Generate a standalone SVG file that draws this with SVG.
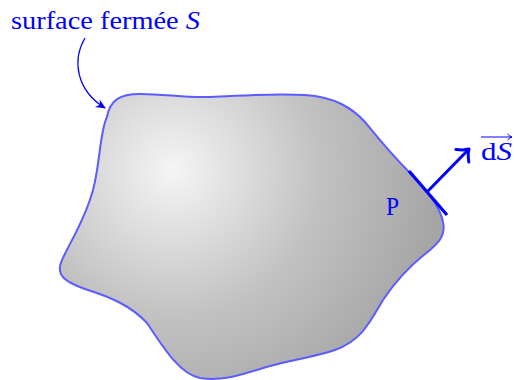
<svg xmlns="http://www.w3.org/2000/svg" width="514" height="380" viewBox="0 0 514 380">
<defs>
<radialGradient id="shade" gradientUnits="userSpaceOnUse" cx="173" cy="170" r="265">
<stop offset="0" stop-color="#f5f5f5"/>
<stop offset="0.55" stop-color="#c2c2c2"/>
<stop offset="1" stop-color="#a6a6a6"/>
</radialGradient>
<marker id="stealth" viewBox="-10 -5 12 10" refX="0" refY="0" markerWidth="12" markerHeight="10" markerUnits="userSpaceOnUse" orient="auto">
<path d="M 1,0 L -9,-4.5 L -6,0 L -9,4.5 Z" fill="#0000ff"/>
</marker>
<marker id="chev" viewBox="-12 -12 14 24" refX="0" refY="0" markerWidth="14" markerHeight="24" markerUnits="userSpaceOnUse" orient="auto">
<path d="M -9.5,-9 Q -4,-2 0,0 Q -4,2 -9.5,9" fill="none" stroke="#0000ff" stroke-width="3" stroke-linecap="round" stroke-linejoin="round"/>
</marker>
<marker id="small" viewBox="-6 -4 7 8" refX="0" refY="0" markerWidth="7" markerHeight="8" markerUnits="userSpaceOnUse" orient="auto">
<path d="M -4.5,-3 Q -2,-0.5 0,0 Q -2,0.5 -4.5,3" fill="none" stroke="#0000ff" stroke-width="1"/>
</marker>
</defs>
<style>
.lbl { font-family: "Liberation Serif", "DejaVu Serif", serif; fill: #0000ff; }
</style>
<g id="surface">
<path d="M 107,117 C 110,100 120,94 140,94 C 165,94 185,98 210,97 C 240,96 270,93 305,95 C 335,97 352,108 365,122 C 378,138 390,153 410,173 C 425,188 440,205 443,222 C 446,236 438,244 425,254 C 410,266 395,282 383,300 C 370,322 362,340 335,350 C 315,357 290,360 270,366 C 245,373 225,382 200,378 C 180,374 165,350 147,323 C 130,305 110,297 85,289 C 65,282 55,275 62,260 C 70,242 85,220 93,190 C 100,165 100,130 107,117 Z" fill="url(#shade)" stroke="#5c5cff" stroke-width="2"/>
</g>
<g id="label-surface">
<text class="lbl" x="11" y="29" font-size="25" textLength="189" lengthAdjust="spacingAndGlyphs">surface fermée <tspan font-style="italic">S</tspan></text>
</g>
<g id="point-P">
<text class="lbl" x="386" y="215" font-size="25" textLength="13" lengthAdjust="spacingAndGlyphs">P</text>
<line x1="409" y1="171" x2="447" y2="215" stroke="#0000ff" stroke-width="3.2"/>
</g>
<g id="label-dS">
<text class="lbl" x="481" y="160" font-size="25" textLength="31" lengthAdjust="spacingAndGlyphs">d<tspan font-style="italic">S</tspan></text>
<line x1="481" y1="137" x2="512" y2="137" stroke="#0000ff" stroke-width="1" marker-end="url(#small)"/>
</g>
<g id="connectors">
<path d="M 85,38 C 72,60 76,90 105,108" fill="none" stroke="#0000ff" stroke-width="1.2" marker-end="url(#stealth)"/>
<line x1="427" y1="192" x2="469" y2="149" stroke="#0000ff" stroke-width="3" marker-end="url(#chev)"/>
</g>
</svg>
